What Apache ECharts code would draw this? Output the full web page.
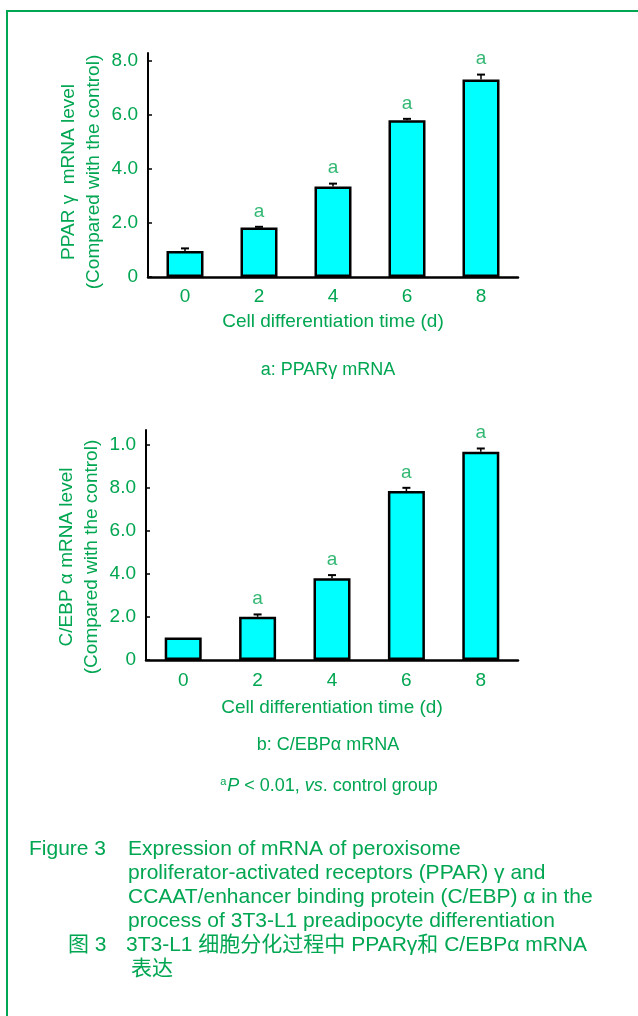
<!DOCTYPE html>
<html>
<head>
<meta charset="utf-8">
<script src="https://cdn.jsdelivr.net/npm/echarts@6/dist/echarts.min.js"></script>
<style>
  html, body { margin: 0; padding: 0; background: #fff; }
  #chart { width: 638px; height: 1016px; }
</style>
</head>
<body>
<div id="chart"></div>
<script>
// x axis: days of differentiation
var days = ['0', '2', '4', '6', '8'];

// a: PPARγ mRNA (relative to control)
var pparMean = [0.96, 1.83, 3.35, 5.81, 7.32];
var pparSd = [0.10, 0.03, 0.11, 0.05, 0.18];
var pparSig = ['', 'a', 'a', 'a', 'a'];
var pparTickVals = [0, 2, 4, 6, 8];
var pparTickText = ['0', '2.0', '4.0', '6.0', '8.0'];

// b: C/EBPα mRNA (relative to control)
var cebpMean = [1.05, 2.01, 3.80, 7.86, 9.69];
var cebpSd = [0, 0.11, 0.15, 0.15, 0.15];
var cebpSig = ['', 'a', 'a', 'a', 'a'];
var cebpTickVals = [0, 2, 4, 6, 8, 10];
var cebpTickText = ['0', '2.0', '4.0', '6.0', '8.0', '1.0'];

var GREEN = '#00a651';
var FONT = '"Liberation Sans", Arial, "Noto Sans CJK SC", sans-serif';

// error bar: line from mean up to mean+sd, with a small cap
function errorItem(params, api) {
  var x = api.value(0), lo = api.value(1), hi = api.value(2);
  if (hi <= lo) return null;
  var p0 = api.coord([x, lo]);
  var p1 = api.coord([x, hi]);
  return {
    type: 'group',
    children: [
      { type: 'line', shape: { x1: p0[0], y1: p0[1], x2: p1[0], y2: p1[1] }, style: { stroke: '#000', lineWidth: 1.5 } },
      { type: 'line', shape: { x1: p1[0] - 4, y1: p1[1], x2: p1[0] + 4, y2: p1[1] }, style: { stroke: '#000', lineWidth: 2 } }
    ]
  };
}

function errData(mean, sd) {
  return mean.map(function (m, i) { return [i, m, m + sd[i]]; });
}
function sigData(mean, sd, sig) {
  return mean.map(function (m, i) { return { value: [i, m + sd[i]], sig: sig[i] }; });
}

function xAxisFor(idx, labelMargin, nameGap) {
  return {
    type: 'category',
    gridIndex: idx,
    data: days,
    name: 'Cell differentiation time (d)',
    nameLocation: 'middle',
    nameGap: nameGap,
    nameMoveOverlap: false,
    nameTextStyle: { color: GREEN, fontSize: 19, fontFamily: FONT },
    axisLine: { lineStyle: { color: '#000', width: 2.5 } },
    axisTick: { inside: true, length: 5, lineStyle: { color: '#000', width: 1 } },
    axisLabel: { color: GREEN, fontSize: 19, fontFamily: FONT, margin: labelMargin }
  };
}

// shift moves the rotated name down along the axis
function yAxisFor(idx, max, vals, texts, name, shift) {
  return {
    type: 'value',
    gridIndex: idx,
    min: 0,
    max: max,
    name: name,
    nameLocation: 'middle',
    nameRotate: 90,
    nameGap: 42,
    nameMoveOverlap: false,
    nameTextStyle: { color: GREEN, fontSize: 19, lineHeight: 25, fontFamily: FONT, align: 'center', padding: [0, shift * 2, 0, 0] },
    splitLine: { show: false },
    axisLine: { show: true, lineStyle: { color: '#000', width: 2 } },
    axisTick: { show: true, inside: true, length: 4, customValues: vals, lineStyle: { color: '#000', width: 1.5 } },
    axisLabel: {
      color: GREEN, fontSize: 19, fontFamily: FONT, margin: 10,
      customValues: vals,
      formatter: function (v) { var k = vals.indexOf(v); return k < 0 ? '' : texts[k]; }
    }
  };
}

function seriesFor(idx, mean, sd, sig) {
  return [
    {
      type: 'bar',
      xAxisIndex: idx, yAxisIndex: idx,
      data: mean,
      barWidth: 37,
      itemStyle: { color: '#00ffff', borderColor: '#000', borderWidth: 2.5 },
      z: 2
    },
    {
      type: 'custom',
      xAxisIndex: idx, yAxisIndex: idx,
      data: errData(mean, sd),
      renderItem: errorItem,
      z: 3
    },
    {
      type: 'scatter',
      xAxisIndex: idx, yAxisIndex: idx,
      data: sigData(mean, sd, sig),
      symbolSize: 0,
      silent: true,
      label: {
        show: true, position: 'top', distance: 6,
        color: GREEN, fontSize: 19, fontFamily: FONT,
        formatter: function (p) { return p.data.sig; }
      },
      z: 4
    }
  ];
}

function txt(x, y, text, size, align) {
  return {
    type: 'text', x: x, y: y,
    style: {
      text: text, fill: GREEN,
      font: size + 'px ' + FONT,
      textAlign: align || 'left', textVerticalAlign: 'middle'
    }
  };
}

var chart = echarts.init(document.getElementById('chart'));
chart.setOption({
  backgroundColor: '#fff',
  animation: false,
  grid: [
    { left: 148, top: 53, width: 370, height: 224 },
    { left: 146, top: 430, width: 372, height: 230 }
  ],
  xAxis: [xAxisFor(0, 10, 35), xAxisFor(1, 11, 38)],
  yAxis: [
    yAxisFor(0, 8.3, pparTickVals, pparTickText, 'PPAR γ  mRNA level\n(Compared with the control)', 7),
    yAxisFor(1, 10.7, cebpTickVals, cebpTickText, 'C/EBP α mRNA level\n(Compared with the control)', 12)
  ],
  series: seriesFor(0, pparMean, pparSd, pparSig).concat(seriesFor(1, cebpMean, cebpSd, cebpSig)),
  graphic: [
    {
      type: 'rect',
      shape: { x: 7, y: 11, width: 700, height: 1100 },
      style: { fill: 'none', stroke: GREEN, lineWidth: 2 },
      silent: true
    },
    txt(328, 370, 'a: PPARγ mRNA', 18, 'center'),
    txt(328, 745, 'b: C/EBPα mRNA', 18, 'center'),
    {
      type: 'text', x: 329, y: 786,
      style: {
        text: '{sup|a}{it|P} < 0.01, {it|vs}. control group',
        fill: GREEN, font: '18px ' + FONT,
        textAlign: 'center', textVerticalAlign: 'middle',
        rich: {
          sup: { fontSize: 11, fill: GREEN, fontFamily: FONT, padding: [0, 1, 8, 0] },
          it: { fontSize: 18, fill: GREEN, fontFamily: FONT, fontStyle: 'italic' }
        }
      }
    },
    txt(29, 849, 'Figure 3', 21),
    txt(128, 849, 'Expression of mRNA of peroxisome', 21),
    txt(128, 873, 'proliferator-activated receptors (PPAR) γ and', 21),
    txt(128, 897, 'CCAAT/enhancer binding protein (C/EBP) α in the', 21),
    txt(128, 921, 'process of 3T3-L1 preadipocyte differentiation', 21),
    txt(68, 945, '图 3', 21),
    txt(126, 945, '3T3-L1 细胞分化过程中 PPARγ和 C/EBPα mRNA', 21),
    txt(131, 969, '表达', 21)
  ]
});
</script>
</body>
</html>
